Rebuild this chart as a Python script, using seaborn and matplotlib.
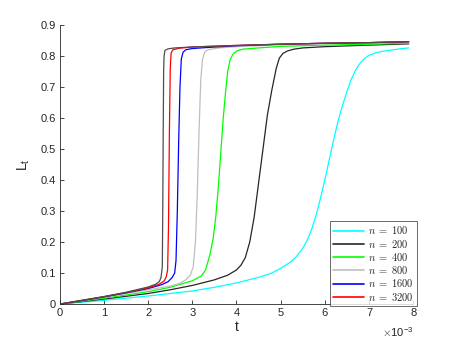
import numpy as np
import pandas as pd
import matplotlib
matplotlib.use("Agg")
import matplotlib.pyplot as plt
import seaborn as sns

# curves (t in units of 1e-3)
t_100 = [0, 0.5, 1, 1.5, 2, 2.5, 3, 3.5, 4, 4.5, 4.8, 5.0, 5.2, 5.35, 5.5, 5.6, 5.7, 5.8, 5.9, 6.0,
         6.1, 6.2, 6.3, 6.4, 6.5, 6.6, 6.7, 6.8, 6.9, 7.0, 7.15, 7.3, 7.5, 7.7, 7.9]
L_100 = [0, 0.006, 0.012, 0.019, 0.026, 0.034, 0.042, 0.054, 0.068, 0.086, 0.1, 0.115, 0.133, 0.152, 0.18, 0.205, 0.24, 0.285, 0.34, 0.4,
         0.465, 0.53, 0.59, 0.64, 0.685, 0.725, 0.755, 0.777, 0.792, 0.802, 0.81, 0.815, 0.819, 0.823, 0.826]

t_200 = [0, 0.5, 1, 1.5, 2, 2.5, 3, 3.5, 3.8, 4.0, 4.1, 4.2, 4.3, 4.4, 4.5, 4.6, 4.7, 4.8, 4.9, 4.97,
         5.05, 5.15, 5.3, 5.5, 6, 7, 7.9]
L_200 = [0, 0.008, 0.016, 0.025, 0.034, 0.046, 0.06, 0.078, 0.093, 0.11, 0.125, 0.15, 0.2, 0.28, 0.39, 0.5, 0.61, 0.69, 0.76, 0.793,
         0.808, 0.816, 0.822, 0.826, 0.83, 0.835, 0.839]

t_400 = [0, 0.5, 1, 1.5, 2, 2.5, 3, 3.2, 3.3, 3.4, 3.47, 3.53, 3.59, 3.65, 3.7, 3.75, 3.8, 3.86, 3.93, 4.02,
         4.15, 4.5, 5, 6, 7, 7.9]
L_400 = [0, 0.009, 0.019, 0.029, 0.04, 0.054, 0.075, 0.09, 0.11, 0.16, 0.21, 0.28, 0.38, 0.5, 0.6, 0.68, 0.75, 0.79, 0.808, 0.817,
         0.822, 0.826, 0.831, 0.835, 0.838, 0.841]

t_800 = [0, 0.5, 1, 1.5, 2, 2.5, 2.7, 2.85, 2.95, 3.02, 3.07, 3.11, 3.15, 3.19, 3.23, 3.28, 3.35, 3.6, 4, 5, 6, 7, 7.9]
L_800 = [0, 0.011, 0.022, 0.034, 0.046, 0.058, 0.066, 0.078, 0.092, 0.12, 0.2, 0.35, 0.55, 0.72, 0.79, 0.812, 0.82, 0.826,
         0.83, 0.836, 0.84, 0.843, 0.846]

t_1600 = [0, 0.5, 1, 1.5, 2, 2.3, 2.45, 2.54, 2.6, 2.63, 2.66, 2.69, 2.72, 2.75, 2.79, 2.85, 3.0, 3.3, 4, 5, 6, 7, 7.9]
L_1600 = [0, 0.011, 0.023, 0.036, 0.05, 0.062, 0.072, 0.085, 0.1, 0.14, 0.3, 0.52, 0.7, 0.79, 0.812, 0.82, 0.824, 0.827,
          0.833, 0.838, 0.841, 0.843, 0.846]

t_3200 = [0, 0.5, 1, 1.5, 2, 2.25, 2.36, 2.41, 2.44, 2.46, 2.48, 2.5, 2.52, 2.56, 2.7, 3, 4, 5, 6, 7, 7.9]
L_3200 = [0, 0.012, 0.024, 0.037, 0.052, 0.064, 0.074, 0.088, 0.11, 0.25, 0.55, 0.76, 0.81, 0.82, 0.825, 0.829, 0.834,
          0.838, 0.841, 0.843, 0.846]

# unlabelled dark-grey curve, leftmost
t_extra = [0, 0.5, 1, 1.5, 2, 2.17, 2.25, 2.29, 2.32, 2.33, 2.34, 2.35, 2.36, 2.38, 2.45, 2.6, 3, 4, 5, 6, 7, 7.9]
L_extra = [0, 0.012, 0.024, 0.038, 0.055, 0.064, 0.072, 0.085, 0.12, 0.3, 0.55, 0.75, 0.8, 0.818, 0.823, 0.826, 0.829,
           0.834, 0.838, 0.841, 0.843, 0.846]

series = [
    (t_100, L_100, "#00ffff", r"$n\;=\;100$"),
    (t_200, L_200, "#262626", r"$n\;=\;200$"),
    (t_400, L_400, "#00ff00", r"$n\;=\;400$"),
    (t_800, L_800, "#bfbfbf", r"$n\;=\;800$"),
    (t_1600, L_1600, "#0000ff", r"$n\;=\;1600$"),
    (t_3200, L_3200, "#ff0000", r"$n\;=\;3200$"),
    (t_extra, L_extra, "#4d4d4d", None),
]

x_ticks = [0, 1, 2, 3, 4, 5, 6, 7, 8]
y_ticks = [0, 0.1, 0.2, 0.3, 0.4, 0.5, 0.6, 0.7, 0.8, 0.9]
y_labels = ["0", "0.1", "0.2", "0.3", "0.4", "0.5", "0.6", "0.7", "0.8", "0.9"]

sns.set_style("ticks")
plt.rcParams['font.family'] = ['Liberation Sans', 'DejaVu Sans']
plt.rcParams['mathtext.fontset'] = 'cm'
plt.rcParams['xtick.direction'] = 'in'
plt.rcParams['ytick.direction'] = 'in'

fig = plt.figure(figsize=(4.57, 3.42), dpi=100)
ax = fig.add_axes([0.131, 0.111, 0.773, 0.816])

for t, L, c, lab in series:
    df = pd.DataFrame({"t": t, "L": L})
    sns.lineplot(data=df, x="t", y="L", color=c, lw=0.9, label=lab, ax=ax, sort=False)

ax.set_xlim(0, 8)
ax.set_ylim(0, 0.9)
ax.set_xticks(x_ticks)
ax.set_yticks(y_ticks)
ax.set_yticklabels(y_labels)
ax.tick_params(labelsize=8, length=3, width=0.6, colors="#262626", pad=3)
for s in ["top", "right"]:
    ax.spines[s].set_visible(False)
for s in ["left", "bottom"]:
    ax.spines[s].set_linewidth(0.6)
    ax.spines[s].set_color("#262626")

ax.set_xlabel("t", fontsize=10, color="#262626", labelpad=1)
ax.set_ylabel(r"$\mathregular{L_t}$", fontsize=10, color="#262626", labelpad=6)
ax.text(1.0, -0.075, r"$\times\mathregular{10^{-3}}$", transform=ax.transAxes,
        ha="right", va="top", fontsize=8, color="#262626")

leg = ax.legend(loc="lower right", bbox_to_anchor=(1.01, -0.008), fontsize=7.5,
                frameon=True, fancybox=False, handlelength=3.0, borderpad=0.35,
                labelspacing=0.12, handletextpad=0.3, borderaxespad=0.0)
leg.get_frame().set_edgecolor("#262626")
leg.get_frame().set_linewidth(0.6)
for h in leg.get_lines():
    h.set_linewidth(1.2)

fig.savefig("out.png", dpi=100)
